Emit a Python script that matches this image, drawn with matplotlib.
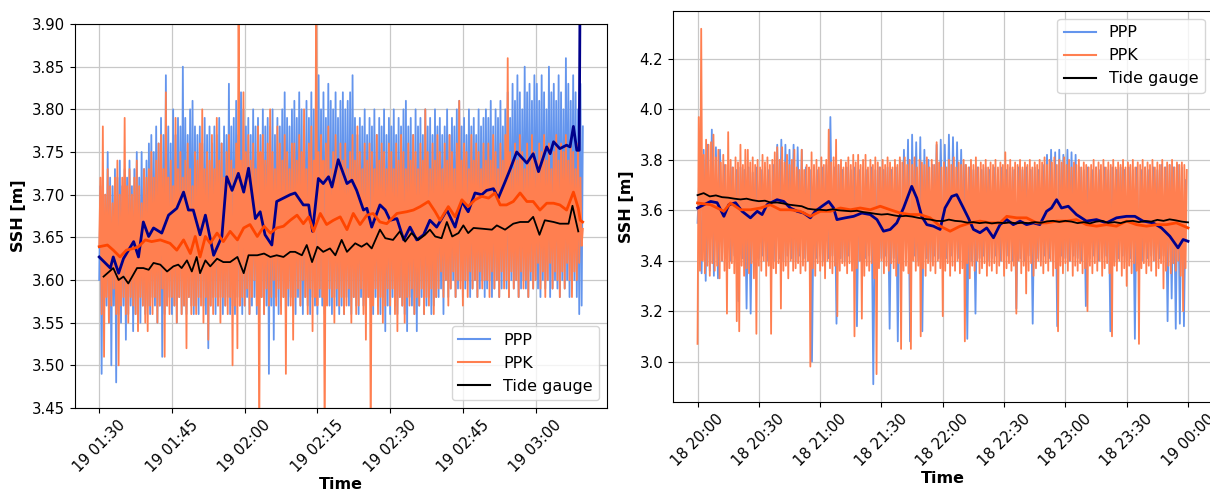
import numpy as np
import pandas as pd
import matplotlib
matplotlib.use("Agg")
import matplotlib.pyplot as plt
import matplotlib.dates as mdates

# =====================================================
# DATA
# =====================================================

LEFT_START = pd.Timestamp("2022-06-19 01:30")
RIGHT_START = pd.Timestamp("2022-06-18 20:00")

# left panel raw series in cm, one value every 15 s from 01:30
left_ppp_cm = [
    360, 371, 349, 372, 356, 370, 357, 375, 355, 372, 350, 371, 357, 373, 348, 372, 356, 374, 355, 371,
    357, 373, 353, 372, 356, 374, 357, 371, 354, 373, 356, 375, 357, 372, 355, 375, 357, 373, 356, 374,
    357, 376, 356, 377, 358, 375, 357, 378, 355, 376, 357, 379, 351, 377, 356, 384, 357, 378, 358, 376,
    356, 380, 357, 377, 355, 379, 358, 378, 356, 385, 357, 379, 356, 377, 358, 380, 357, 381, 356, 378,
    357, 377, 356, 378, 358, 376, 357, 379, 356, 377, 352, 378, 357, 376, 358, 378, 356, 377, 357, 379,
    358, 376, 356, 378, 357, 377, 358, 383, 356, 378, 357, 379, 356, 381, 358, 377, 357, 382, 356, 380,
    357, 378, 358, 379, 356, 377, 357, 380, 358, 378, 356, 379, 357, 377, 358, 380, 356, 378, 357, 379,
    349, 378, 357, 380, 353, 377, 358, 379, 356, 378, 357, 380, 358, 382, 356, 379, 357, 378, 358, 380,
    357, 381, 356, 379, 358, 382, 357, 380, 356, 378, 358, 381, 357, 379, 356, 382, 358, 380, 357, 381,
    356, 384, 358, 380, 357, 382, 356, 379, 358, 383, 357, 381, 356, 380, 358, 382, 357, 379, 356, 381,
    357, 382, 356, 380, 358, 381, 357, 382, 356, 384, 358, 379, 357, 377, 356, 379, 358, 378, 357, 380,
    356, 377, 358, 379, 357, 378, 356, 380, 358, 377, 357, 379, 356, 378, 358, 380, 354, 377, 357, 379,
    356, 378, 358, 380, 357, 377, 356, 379, 358, 378, 357, 380, 356, 381, 354, 378, 358, 379, 357, 377,
    356, 380, 354, 378, 357, 379, 358, 377, 356, 380, 357, 378, 358, 379, 356, 377, 357, 380, 358, 378,
    358, 379, 359, 377, 356, 378, 360, 380, 358, 377, 359, 379, 360, 378, 358, 380, 359, 381, 360, 378,
    358, 379, 359, 377, 360, 380, 358, 378, 359, 379, 360, 377, 358, 380, 359, 378, 360, 379, 358, 380,
    359, 379, 360, 381, 358, 378, 359, 380, 360, 379, 358, 381, 359, 378, 360, 380, 359, 382, 358, 379,
    360, 383, 359, 381, 360, 384, 358, 382, 359, 380, 360, 385, 359, 382, 358, 383, 360, 381, 359, 384,
    360, 383, 359, 381, 358, 384, 360, 382, 359, 380, 360, 385, 358, 382, 359, 383, 360, 381, 359, 384,
    358, 382, 360, 380, 359, 386, 360, 383, 358, 381, 359, 384, 360, 382, 358, 380, 356, 383, 357, 378,
]
left_ppk_cm = [
    364, 372, 356, 378, 351, 370, 358, 373, 355, 371, 357, 369, 359, 372, 356, 374, 350, 370, 357, 372,
    358, 379, 356, 371, 355, 373, 358, 370, 357, 372, 356, 374, 354, 371, 358, 369, 357, 373, 355, 372,
    354, 373, 357, 375, 356, 372, 358, 374, 355, 376, 357, 377, 359, 373, 351, 382, 357, 372, 356, 374,
    358, 371, 357, 379, 355, 373, 358, 375, 356, 372, 357, 374, 352, 376, 358, 373, 356, 371, 357, 375,
    356, 374, 358, 376, 357, 380, 355, 373, 358, 375, 353, 374, 357, 377, 356, 373, 358, 379, 357, 374,
    355, 376, 358, 372, 357, 375, 356, 377, 358, 374, 350, 373, 357, 376, 352, 395, 357, 374, 358, 382,
    357, 375, 359, 377, 356, 374, 358, 376, 360, 373, 357, 378, 340, 375, 358, 377, 356, 374, 359, 376,
    357, 380, 358, 375, 360, 373, 357, 378, 359, 376, 356, 374, 358, 377, 349, 375, 359, 373, 357, 376,
    353, 376, 358, 374, 359, 377, 357, 375, 360, 380, 358, 373, 356, 376, 359, 378, 354, 374, 358, 395,
    357, 375, 359, 377, 358, 374, 340, 376, 357, 378, 359, 373, 358, 375, 355, 377, 359, 374, 357, 376,
    358, 374, 356, 376, 357, 373, 359, 375, 355, 377, 358, 374, 356, 378, 357, 375, 359, 373, 356, 376,
    353, 374, 358, 376, 340, 375, 357, 373, 359, 377, 356, 374, 358, 376, 355, 375, 357, 373, 359, 376,
    357, 375, 359, 373, 356, 376, 354, 374, 358, 377, 357, 375, 355, 373, 358, 376, 357, 374, 359, 377,
    356, 375, 358, 373, 357, 376, 359, 374, 356, 380, 358, 375, 357, 373, 359, 376, 356, 374, 358, 377,
    359, 375, 361, 373, 358, 376, 360, 374, 357, 377, 359, 375, 361, 373, 358, 376, 360, 381, 359, 374,
    357, 376, 360, 375, 358, 373, 361, 377, 359, 374, 360, 376, 358, 375, 361, 373, 359, 376, 360, 374,
    360, 376, 358, 374, 361, 377, 359, 375, 360, 373, 358, 376, 361, 374, 359, 377, 360, 386, 358, 375,
    361, 373, 359, 376, 360, 374, 358, 377, 361, 375, 359, 373, 360, 376, 358, 374, 361, 377, 359, 375,
    360, 374, 362, 376, 359, 375, 361, 377, 358, 374, 360, 376, 362, 373, 359, 375, 361, 377, 360, 374,
    358, 376, 361, 375, 359, 377, 362, 374, 360, 376, 358, 375, 361, 373, 360, 376, 362, 372, 364, 366,
]

# left panel smoothed series (minutes after 01:30, value in m)
left_ppp_smooth_min = [0, 2.3, 2.9, 4, 5, 7.1, 8.1, 9.1, 10.2, 11.2, 12.9, 14.3, 16, 17.4, 18.4, 19.4, 20.8,
                       21.9, 23.6, 25.3, 26.3, 27.4, 28.7, 29.8, 30.8, 32.2, 33.2, 34.2, 35.6, 36.6, 38,
                       39.4, 40.4, 42.1, 43.2, 44, 45.2, 46.2, 47.3, 48, 49.3, 51.1, 52.1, 53.1, 54.5,
                       55.2, 56.2, 57.9, 59, 60, 61.4, 62.8, 64.1, 65.5, 66.9, 68.2, 69.6, 71.7, 73.4,
                       74.8, 76.1, 77.5, 78.9, 79.9, 81.3, 82.3, 83.7, 84.7, 86.1, 88.2, 89.5, 90.6,
                       92.3, 93, 93.7, 95, 96.4, 97.1, 97.8, 98.5, 99, 99.4]
left_ppp_smooth = [3.627, 3.614, 3.627, 3.608, 3.625, 3.645, 3.627, 3.668, 3.651, 3.661, 3.655, 3.676,
                   3.684, 3.703, 3.682, 3.682, 3.653, 3.676, 3.629, 3.651, 3.721, 3.705, 3.725, 3.703,
                   3.731, 3.672, 3.680, 3.653, 3.641, 3.692, 3.696, 3.700, 3.702, 3.688, 3.688, 3.657,
                   3.719, 3.713, 3.721, 3.709, 3.741, 3.713, 3.717, 3.705, 3.682, 3.684, 3.662, 3.688,
                   3.682, 3.670, 3.672, 3.647, 3.662, 3.647, 3.653, 3.670, 3.662, 3.682, 3.662, 3.692,
                   3.680, 3.702, 3.700, 3.705, 3.707, 3.696, 3.715, 3.729, 3.750, 3.737, 3.748, 3.727,
                   3.756, 3.748, 3.762, 3.754, 3.758, 3.756, 3.780, 3.752, 3.752, 4.200]

left_ppk_smooth_min = [0, 1.7, 2.9, 4.3, 5.6, 7.1, 8.1, 9.5, 10.8, 12.6, 14.6, 16, 17.4, 18.8, 19.8, 20.8,
                       21.9, 22.9, 24.3, 25.6, 27, 28.5, 29.8, 31.1, 32.6, 34, 35.3, 36.6, 38, 39.4,
                       40.8, 42.1, 43.2, 44.2, 45.6, 46.9, 48.3, 49.7, 51.1, 52.4, 53.8, 55.2, 56.5,
                       57.9, 59.3, 61.4, 63.4, 64.8, 66.2, 67.9, 69.3, 70.3, 72, 73.4, 74.8, 76.1, 77.5,
                       78.9, 80.3, 81.6, 82.7, 84, 85.4, 86.8, 88.2, 89.5, 90.9, 92.3, 93.7, 95, 96.4,
                       97.8, 98.8, 99.2, 99.7]
left_ppk_smooth = [3.639, 3.641, 3.635, 3.627, 3.635, 3.637, 3.639, 3.647, 3.645, 3.647, 3.643, 3.635,
                   3.647, 3.631, 3.651, 3.627, 3.651, 3.643, 3.655, 3.645, 3.657, 3.647, 3.661, 3.665,
                   3.651, 3.663, 3.655, 3.661, 3.663, 3.670, 3.676, 3.666, 3.674, 3.657, 3.678, 3.665,
                   3.670, 3.674, 3.659, 3.678, 3.665, 3.676, 3.678, 3.668, 3.666, 3.678, 3.680, 3.682,
                   3.686, 3.692, 3.680, 3.670, 3.686, 3.674, 3.694, 3.686, 3.694, 3.698, 3.696, 3.702,
                   3.688, 3.688, 3.692, 3.702, 3.692, 3.692, 3.682, 3.690, 3.690, 3.688, 3.682, 3.703,
                   3.684, 3.670, 3.668]

left_tide_min = [0.9, 2.9, 4, 5, 6, 7.8, 9.1, 10.2, 11.2, 12.6, 14, 15.3, 16.3, 17, 18.1, 19.1, 20.1,
                 20.8, 21.9, 22.9, 24.3, 25.6, 27, 28.5, 29.8, 30.8, 32.6, 34, 35.3, 36.6, 38, 39.4,
                 40.4, 41.8, 42.8, 43.9, 45, 46.2, 47.6, 48.7, 50, 51.1, 52.8, 54.1, 55.2, 56.2, 57.9,
                 59, 60.6, 62, 63.1, 64.4, 65.8, 67.2, 68.2, 69.3, 70.6, 71.7, 72.8, 74.1, 75.1, 76.1,
                 77.2, 79.2, 81, 82, 83.7, 85.4, 86.8, 88.5, 89.5, 90.8, 91.9, 93.7, 95, 96.8, 97.6, 98.8]
left_tide = [3.604, 3.614, 3.600, 3.604, 3.596, 3.614, 3.614, 3.612, 3.620, 3.618, 3.610, 3.616, 3.618,
             3.614, 3.623, 3.610, 3.627, 3.608, 3.623, 3.616, 3.625, 3.621, 3.621, 3.627, 3.608, 3.629,
             3.629, 3.631, 3.627, 3.629, 3.627, 3.633, 3.633, 3.629, 3.641, 3.621, 3.639, 3.633, 3.637,
             3.629, 3.647, 3.633, 3.643, 3.639, 3.643, 3.637, 3.659, 3.649, 3.647, 3.657, 3.645, 3.655,
             3.647, 3.653, 3.659, 3.651, 3.649, 3.668, 3.651, 3.655, 3.664, 3.655, 3.661, 3.660, 3.659,
             3.664, 3.659, 3.666, 3.668, 3.668, 3.674, 3.653, 3.670, 3.668, 3.666, 3.666, 3.687, 3.657]

# right panel raw PPP in m, one value per minute from 20:00
right_ppp = [
    3.55, 3.76, 3.35, 3.84, 3.32, 3.86, 3.36, 3.92, 3.34, 3.85, 3.33, 3.84, 3.40, 3.78, 3.41, 3.76, 3.40, 3.77, 3.42, 3.76,
    3.24, 3.77, 3.41, 3.76, 3.21, 3.77, 3.19, 3.75, 3.40, 3.77, 3.41, 3.76, 3.42, 3.77, 3.40, 3.76, 3.41, 3.78, 3.40, 3.86,
    3.41, 3.88, 3.40, 3.86, 3.42, 3.84, 3.41, 3.86, 3.40, 3.85, 3.42, 3.84, 3.41, 3.77, 3.40, 3.76, 3.00, 3.77, 3.41, 3.76,
    3.42, 3.77, 3.40, 3.78, 3.41, 3.97, 3.42, 3.77, 3.15, 3.78, 3.41, 3.76, 3.40, 3.77, 3.42, 3.76, 3.41, 3.77, 3.14, 3.76,
    3.40, 3.77, 3.41, 3.76, 3.42, 3.77, 2.91, 3.76, 3.40, 3.77, 3.41, 3.76, 3.42, 3.77, 3.13, 3.76, 3.41, 3.77, 3.08, 3.80,
    3.40, 3.84, 3.41, 3.88, 3.08, 3.90, 3.42, 3.87, 3.40, 3.89, 3.12, 3.84, 3.41, 3.80, 3.40, 3.78, 3.42, 3.86, 3.41, 3.88,
    3.40, 3.86, 3.41, 3.90, 3.42, 3.89, 3.40, 3.87, 3.41, 3.84, 3.42, 3.78, 3.09, 3.77, 3.40, 3.76, 3.19, 3.77, 3.41, 3.76,
    3.42, 3.77, 3.40, 3.76, 3.41, 3.77, 3.42, 3.76, 3.40, 3.77, 3.41, 3.76, 3.42, 3.77, 3.40, 3.76, 3.21, 3.77, 3.41, 3.76,
    3.40, 3.77, 3.42, 3.76, 3.15, 3.77, 3.41, 3.76, 3.40, 3.78, 3.42, 3.82, 3.41, 3.84, 3.40, 3.83, 3.14, 3.84, 3.42, 3.82,
    3.41, 3.84, 3.40, 3.83, 3.42, 3.82, 3.41, 3.77, 3.40, 3.76, 3.22, 3.77, 3.41, 3.76, 3.42, 3.77, 3.40, 3.76, 3.41, 3.77,
    3.42, 3.76, 3.12, 3.77, 3.40, 3.76, 3.41, 3.77, 3.42, 3.76, 3.40, 3.77, 3.41, 3.76, 3.09, 3.77, 3.42, 3.76, 3.40, 3.77,
    3.41, 3.76, 3.42, 3.77, 3.40, 3.76, 3.41, 3.78, 3.42, 3.77, 3.16, 3.78, 3.25, 3.77, 3.13, 3.78, 3.15, 3.77, 3.14, 3.72,
]
# right panel raw PPK in cm, one value every 36 s from 20:00
right_ppk_cm = [
    307, 397, 336, 432, 340, 382, 335, 388, 338, 386, 334, 387, 339, 390, 336, 381, 338, 384, 333, 379,
    340, 382, 336, 378, 319, 391, 337, 380, 339, 377, 335, 381, 316, 379, 312, 386, 338, 378, 334, 384,
    337, 384, 335, 379, 339, 381, 333, 378, 311, 380, 338, 377, 336, 382, 340, 379, 334, 381, 338, 378,
    311, 380, 337, 383, 335, 385, 339, 380, 321, 385, 336, 379, 338, 382, 333, 378, 340, 380, 336, 384,
    337, 377, 339, 376, 335, 384, 338, 376, 336, 378, 340, 377, 298, 383, 337, 378, 334, 380, 339, 377,
    336, 381, 338, 378, 333, 380, 340, 392, 337, 379, 335, 381, 338, 388, 318, 378, 336, 380, 339, 377,
    338, 379, 335, 381, 339, 378, 336, 382, 310, 379, 337, 382, 340, 378, 317, 380, 334, 382, 338, 377,
    336, 380, 339, 378, 333, 381, 295, 379, 337, 377, 340, 380, 335, 378, 338, 381, 336, 379, 339, 377,
    337, 380, 334, 378, 339, 381, 305, 379, 336, 381, 338, 378, 335, 380, 305, 378, 340, 381, 336, 377,
    338, 380, 310, 379, 337, 378, 334, 381, 339, 377, 336, 380, 338, 378, 335, 387, 340, 379, 337, 377,
    318, 379, 336, 377, 339, 380, 334, 378, 338, 381, 336, 377, 340, 379, 335, 378, 337, 380, 308, 378,
    339, 377, 333, 380, 338, 378, 336, 381, 340, 377, 335, 379, 337, 378, 339, 380, 334, 377, 338, 379,
    336, 378, 339, 380, 335, 377, 338, 379, 340, 378, 334, 383, 337, 378, 339, 380, 336, 377, 338, 379,
    319, 378, 340, 380, 335, 377, 338, 379, 327, 378, 336, 380, 339, 377, 334, 379, 337, 378, 340, 380,
    338, 379, 335, 381, 339, 378, 336, 380, 340, 379, 334, 381, 337, 378, 312, 380, 338, 379, 335, 381,
    339, 378, 336, 380, 340, 377, 334, 379, 338, 378, 336, 380, 339, 377, 335, 379, 337, 378, 320, 377,
    338, 378, 335, 380, 339, 377, 336, 379, 340, 378, 334, 380, 337, 377, 339, 379, 335, 378, 310, 380,
    338, 377, 336, 379, 340, 378, 334, 380, 337, 377, 330, 379, 338, 378, 335, 380, 339, 377, 336, 379,
    307, 378, 337, 380, 339, 377, 335, 379, 338, 378, 336, 380, 340, 377, 334, 379, 337, 378, 339, 380,
    329, 377, 336, 379, 338, 378, 335, 380, 339, 377, 336, 379, 340, 378, 334, 379, 320, 378, 337, 376,
]

# right panel smoothed series (minutes after 20:00, value in m)
right_ppp_smooth_min = [0, 3.1, 6.4, 9.6, 12.9, 15.3, 18.6, 21.8, 25.9, 29.2, 31.6, 34, 38.9, 42.2, 45.4,
                        48.7, 51.9, 55.2, 57.6, 60.9, 64.2, 66.6, 68.2, 72.3, 76.4, 80.4, 84.5, 87.8, 91,
                        94.3, 97.5, 100.8, 104.8, 107.3, 109.7, 112.2, 115.4, 118.7, 121.1, 124.4, 126.8,
                        130.1, 132.5, 135, 138.2, 141.5, 144.8, 148, 151.3, 154.5, 157.8, 161, 164.3, 167.5,
                        170.8, 173.2, 175.7, 178.1, 181.4, 185.4, 190.3, 195.2, 200.1, 205, 209.9, 214, 218,
                        222.9, 227, 231.1, 235.1, 237.6, 240]
right_ppp_smooth = [3.609, 3.622, 3.635, 3.630, 3.576, 3.622, 3.630, 3.596, 3.570, 3.596, 3.583, 3.622,
                    3.642, 3.635, 3.609, 3.596, 3.589, 3.570, 3.596, 3.616, 3.635, 3.609, 3.563, 3.570,
                    3.576, 3.589, 3.583, 3.563, 3.517, 3.524, 3.550, 3.609, 3.695, 3.648, 3.576, 3.543,
                    3.537, 3.524, 3.609, 3.655, 3.662, 3.609, 3.570, 3.524, 3.511, 3.530, 3.491, 3.543,
                    3.563, 3.543, 3.557, 3.543, 3.550, 3.543, 3.596, 3.609, 3.642, 3.609, 3.616, 3.583,
                    3.557, 3.563, 3.550, 3.570, 3.576, 3.576, 3.557, 3.550, 3.530, 3.497, 3.451, 3.484, 3.477]

right_ppk_smooth_min = [0, 6.4, 12.9, 16.1, 21, 25.9, 30.8, 35.6, 40.5, 45.4, 50.3, 55.2, 60.1, 65, 69.9,
                        74.8, 79.6, 84.5, 89.4, 94.3, 99.2, 104, 108.9, 113.8, 118.7, 123.6, 128.5, 133.4,
                        138.2, 143.1, 148, 151.3, 156.2, 161, 165.9, 170.8, 175.7, 180.6, 185.4, 190.3,
                        195.2, 200.1, 205, 209.9, 214.8, 219.7, 224.6, 229.5, 234.3, 240]
right_ppk_smooth = [3.629, 3.622, 3.596, 3.629, 3.602, 3.602, 3.609, 3.622, 3.602, 3.602, 3.596, 3.576,
                    3.596, 3.596, 3.609, 3.602, 3.609, 3.602, 3.616, 3.602, 3.589, 3.583, 3.583, 3.570,
                    3.537, 3.517, 3.537, 3.550, 3.557, 3.550, 3.550, 3.576, 3.570, 3.570, 3.550, 3.550,
                    3.557, 3.557, 3.563, 3.543, 3.537, 3.543, 3.537, 3.557, 3.543, 3.537, 3.543, 3.543,
                    3.550, 3.530]

# tide gauge, every 3 minutes from 20:00 to 00:00
right_tide = [3.660, 3.668, 3.655, 3.659, 3.652, 3.650, 3.646, 3.643, 3.646, 3.640, 3.636, 3.638,
              3.630, 3.631, 3.627, 3.622, 3.619, 3.616, 3.606, 3.603, 3.602, 3.600, 3.604, 3.600,
              3.598, 3.596, 3.598, 3.593, 3.590, 3.586, 3.583, 3.585, 3.580, 3.576, 3.578, 3.575,
              3.570, 3.566, 3.563, 3.558, 3.557, 3.563, 3.558, 3.556, 3.551, 3.553, 3.549, 3.552,
              3.548, 3.551, 3.549, 3.552, 3.548, 3.551, 3.549, 3.553, 3.550, 3.556, 3.558, 3.554,
              3.558, 3.555, 3.549, 3.553, 3.548, 3.555, 3.558, 3.550, 3.553, 3.549, 3.556, 3.558,
              3.553, 3.557, 3.555, 3.562, 3.558, 3.564, 3.560, 3.555, 3.552]

# =====================================================
# STYLE
# =====================================================

C_PPP = "cornflowerblue"
C_PPK = "coral"
C_PPP_SMOOTH = "darkblue"
C_PPK_SMOOTH = "orangered"

plt.rcParams["font.family"] = ["DejaVu Sans"]
plt.rcParams["xtick.labelsize"] = 10.7
plt.rcParams["ytick.labelsize"] = 10.7


def at(start, minutes):
    return start + pd.to_timedelta(np.asarray(minutes, dtype=float), unit="min")


def draw_panel(ax, ppp, ppk, ppp_s, ppk_s, tide, legend_loc):
    ax.plot(ppp[0], ppp[1], color=C_PPP, lw=1.3, label="PPP")
    ax.plot(ppk[0], ppk[1], color=C_PPK, lw=1.3, label="PPK")
    ax.plot(ppp_s[0], ppp_s[1], color=C_PPP_SMOOTH, lw=2)
    ax.plot(ppk_s[0], ppk_s[1], color=C_PPK_SMOOTH, lw=2)
    ax.plot(tide[0], tide[1], color="black", lw=1.3, label="Tide gauge")
    ax.grid(True, color="#c8c8c8", lw=0.9)
    ax.set_axisbelow(True)
    ax.set_xlabel("Time", fontsize=11.5, fontweight="bold", labelpad=1)
    ax.set_ylabel("SSH [m]", fontsize=11.5, fontweight="bold")
    ax.xaxis.set_major_formatter(mdates.DateFormatter("%d %H:%M"))
    ax.tick_params(axis="x", labelrotation=45)
    leg = ax.legend(loc=legend_loc, fontsize=11.5)
    for line in leg.get_lines():
        line.set_linewidth(1.5)


fig = plt.figure(figsize=(12.1, 4.93), dpi=100)
ax1 = fig.add_axes([0.0620, 0.1724, 0.4397, 0.7789])
ax2 = fig.add_axes([0.5562, 0.1846, 0.4459, 0.7931])

# left panel
ax1.xaxis.set_major_locator(mdates.MinuteLocator(byminute=[0, 15, 30, 45]))
draw_panel(
    ax1,
    (pd.date_range(LEFT_START, periods=len(left_ppp_cm), freq="15s"), np.array(left_ppp_cm) / 100),
    (pd.date_range(LEFT_START, periods=len(left_ppk_cm), freq="15s"), np.array(left_ppk_cm) / 100),
    (at(LEFT_START, left_ppp_smooth_min), left_ppp_smooth),
    (at(LEFT_START, left_ppk_smooth_min), left_ppk_smooth),
    (at(LEFT_START, left_tide_min), left_tide),
    "lower right",
)
ax1.set_ylim(3.45, 3.90)

# right panel
ax2.xaxis.set_major_locator(mdates.MinuteLocator(byminute=[0, 30]))
draw_panel(
    ax2,
    (pd.date_range(RIGHT_START, periods=len(right_ppp), freq="1min"), right_ppp),
    (pd.date_range(RIGHT_START, periods=len(right_ppk_cm), freq="36s"), np.array(right_ppk_cm) / 100),
    (at(RIGHT_START, right_ppp_smooth_min), right_ppp_smooth),
    (at(RIGHT_START, right_ppk_smooth_min), right_ppk_smooth),
    (pd.date_range(RIGHT_START, periods=len(right_tide), freq="3min"), right_tide),
    "upper right",
)

fig.savefig("out.png", dpi=100)
